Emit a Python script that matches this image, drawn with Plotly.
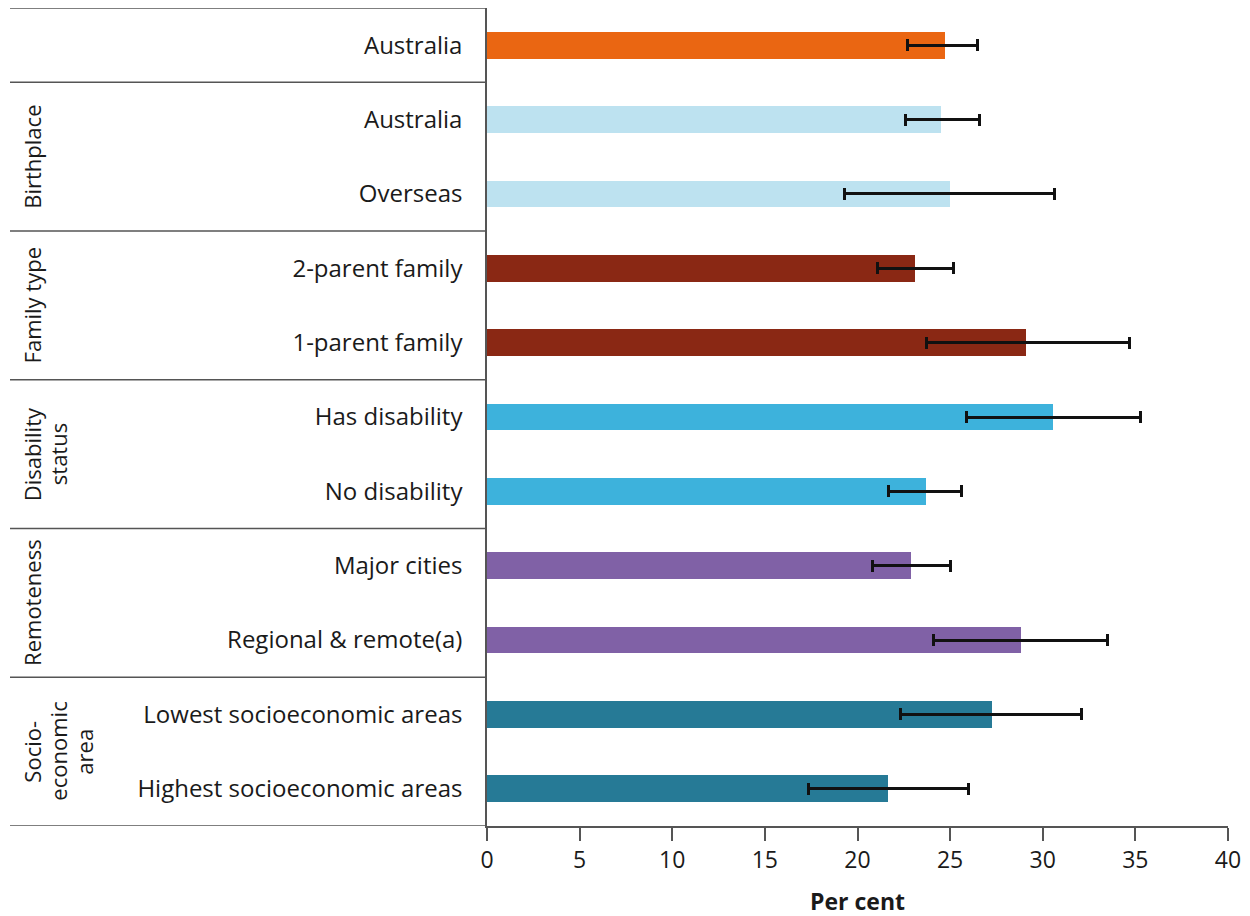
import plotly.graph_objects as go

# ---- data ----
labels = ["Australia", "Australia", "Overseas", "2-parent family", "1-parent family",
          "Has disability", "No disability", "Major cities", "Regional & remote(a)",
          "Lowest socioeconomic areas", "Highest socioeconomic areas"]
values = [24.7, 24.5, 25.0, 23.1, 29.1, 30.55, 23.7, 22.9, 28.8, 27.25, 21.65]
ci_low = [22.7, 22.6, 19.3, 21.1, 23.7, 25.9, 21.7, 20.8, 24.1, 22.3, 17.35]
ci_high = [26.5, 26.6, 30.65, 25.2, 34.7, 35.25, 25.6, 25.0, 33.5, 32.1, 26.0]
groups = ["Total", "Birthplace", "Birthplace", "Family type", "Family type",
          "Disability status", "Disability status", "Remoteness", "Remoteness",
          "Socioeconomic area", "Socioeconomic area"]
group_titles = {"Total": [], "Birthplace": ["Birthplace"], "Family type": ["Family type"],
                "Disability status": ["Disability", "status"], "Remoteness": ["Remoteness"],
                "Socioeconomic area": ["Socio-", "economic", "area"]}
group_colors = {"Total": "#EA6612", "Birthplace": "#BDE2F0", "Family type": "#8A2814",
                "Disability status": "#3DB2DC", "Remoteness": "#8061A6",
                "Socioeconomic area": "#267A96"}
x_ticks = [0, 5, 10, 15, 20, 25, 30, 35, 40]

FONT = "Open Sans"
TXT = "#1a1a1a"
PLOT_W = 741.0   # plot-area width in px, used to place the left-hand panel
fig = go.Figure()

order = []
for g in groups:
    if g not in order:
        order.append(g)

for g in order:
    idx = [i for i, gg in enumerate(groups) if gg == g]
    fig.add_trace(go.Bar(
        orientation="h",
        y=idx,
        x=[values[i] for i in idx],
        marker=dict(color=group_colors[g], line=dict(width=0)),
        width=0.36,
        error_x=dict(type="data", symmetric=False,
                     array=[ci_high[i] - values[i] for i in idx],
                     arrayminus=[values[i] - ci_low[i] for i in idx],
                     color="#111111", thickness=3, width=6),
        showlegend=False,
        hoverinfo="x+y",
    ))

# group separators and titles
left_edge = -477 / PLOT_W
bounds = [-0.5]
for g in order:
    idx = [i for i, gg in enumerate(groups) if gg == g]
    bounds.append(max(idx) + 0.5)
for b in bounds:
    fig.add_shape(type="line", xref="paper", yref="y", x0=left_edge, x1=0, y0=b, y1=b,
                  line=dict(color="#555555", width=1.5))

for g in order:
    lines = group_titles[g]
    if not lines:
        continue
    idx = [i for i, gg in enumerate(groups) if gg == g]
    yc = (min(idx) + max(idx)) / 2
    for k, line in enumerate(lines):
        fig.add_annotation(xref="paper", yref="y", x=(-472 + 26 * k) / PLOT_W, y=yc,
                           text=line, textangle=-90, showarrow=False,
                           xanchor="left", yanchor="middle", align="center",
                           font=dict(family=FONT, size=22, color=TXT))

fig.update_layout(
    width=1250, height=916,
    margin=dict(l=479, r=30, t=0, b=98),
    plot_bgcolor="white", paper_bgcolor="white",
    font=dict(family=FONT, size=24, color=TXT),
    bargap=0,
)
fig.update_xaxes(range=[0, 40], tickvals=x_ticks, ticks="outside", ticklen=13,
                 tickcolor="#555555", tickwidth=1.5, showline=True, linecolor="#555555",
                 linewidth=1.5, showgrid=False, zeroline=False,
                 title=dict(text="<b>Per cent</b>", font=dict(family=FONT, size=23, color=TXT),
                            standoff=20),
                 tickfont=dict(family=FONT, size=23, color=TXT))
fig.update_yaxes(range=[10.5, -0.5], tickvals=list(range(len(labels))), ticktext=labels,
                 showline=True, linecolor="#555555", linewidth=1.5, showgrid=False,
                 zeroline=False, ticks="", ticklabelstandoff=18,
                 tickfont=dict(family=FONT, size=24, color=TXT))

fig.write_html("out.html")
